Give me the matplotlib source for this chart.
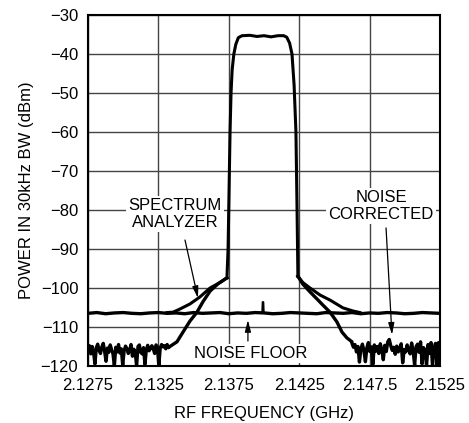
import numpy as np
import matplotlib
matplotlib.use("Agg")
import matplotlib.pyplot as plt

plt.rcParams['font.family'] = ['Liberation Sans', 'DejaVu Sans']

# frequency axis (GHz) and power axis (dBm)
x_ticks = [2.1275, 2.1325, 2.1375, 2.1425, 2.1475, 2.1525]
x_tick_labels = ["2.1275", "2.1325", "2.1375", "2.1425", "2.147.5", "2.1525"]
y_ticks = [-120, -110, -100, -90, -80, -70, -60, -50, -40, -30]

# channel (shared by both traces)
chan_f = [2.13737, 2.13745, 2.13752, 2.13759, 2.13766, 2.13774, 2.13786, 2.13800,
          2.13818, 2.13845, 2.1390, 2.1395, 2.1400, 2.1405, 2.1410, 2.1414,
          2.14162, 2.14182, 2.14199, 2.14214, 2.14227, 2.14235, 2.14241]
chan_db = [-97.4, -90.0, -75.0, -60.0, -50.0, -44.0, -40.0, -37.5,
           -35.8, -35.3, -35.2, -35.5, -35.3, -35.6, -35.3, -35.3,
           -35.7, -37.2, -40.0, -48.0, -60.0, -80.0, -97.0]

# spectrum analyzer skirts
sa_left_f = [2.13311, 2.13354, 2.13403, 2.13474, 2.13545, 2.13617, 2.13688, 2.13737]
sa_left_db = [-106.3, -106.2, -105.4, -104.1, -102.3, -100.0, -98.6, -97.4]
sa_right_f = [2.14241, 2.14276, 2.14327, 2.14398, 2.14469, 2.14561, 2.14632, 2.14682]
sa_right_db = [-97.0, -98.6, -100.0, -101.8, -103.1, -105.1, -105.9, -106.3]

# noise corrected skirts
nc_left_f = [2.13332, 2.13382, 2.13425, 2.13474, 2.13524, 2.13567, 2.13617, 2.13674, 2.13737]
nc_left_db = [-115.0, -113.8, -111.3, -108.5, -106.2, -103.5, -100.8, -98.9, -97.4]
nc_right_f = [2.14241, 2.14276, 2.14327, 2.14376, 2.14419, 2.14469, 2.14518, 2.14554, 2.14589, 2.14625]
nc_right_db = [-97.0, -99.0, -101.0, -102.8, -104.4, -106.2, -108.7, -111.3, -112.8, -113.8]

# noise corrected, residual noise below the floor
nc_noise_left_db = [
    -116.2, -114.8, -116.9, -115.0, -116.4, -119.5, -115.3, -114.4, -116.0, -116.8,
    -115.1, -114.2, -116.3, -118.8, -115.4, -116.5, -114.6, -115.8, -116.9, -120.0,
    -115.2, -116.4, -114.5, -116.7, -115.6, -119.8, -116.2, -114.9, -115.5, -116.8,
    -116.0, -114.5, -117.5, -115.7, -116.4, -120.0, -115.0, -114.6, -116.5, -116.9,
    -115.3, -119.6, -115.9, -114.7, -116.1, -115.5, -114.8, -115.6, -116.8, -114.6,
    -115.2, -120.0, -115.4, -114.5, -115.1, -114.8, -115.6, -114.5, -115.3, -115.0]
nc_noise_right_db = [
    -114.2, -115.2, -114.5, -116.4, -115.0, -119.0, -115.6, -114.4, -116.0, -118.9,
    -115.3, -114.0, -116.3, -115.1, -119.6, -114.6, -116.2, -115.0, -116.8, -114.3,
    -115.8, -118.4, -114.7, -116.3, -113.8, -113.2, -114.8, -116.0, -115.2, -117.0,
    -114.9, -116.4, -115.5, -114.3, -119.2, -115.8, -116.4, -114.6, -115.9, -116.9,
    -114.1, -116.1, -119.8, -115.0, -114.4, -116.5, -113.8, -119.5, -115.3, -116.0,
    -120.0, -114.5, -116.8, -114.0, -120.0, -115.5, -114.2, -119.7, -114.0, -115.2]
nc_noise_left_f = np.linspace(2.1275, 2.13332, len(nc_noise_left_db))
nc_noise_right_f = np.linspace(2.14625, 2.1525, len(nc_noise_right_db))

# measurement noise floor
floor_db = [
    -106.5, -106.3, -106.6, -106.4, -106.3, -106.5, -106.6, -106.4, -106.3, -106.5,
    -106.4, -106.6, -106.3, -106.5, -106.4, -106.3, -106.6, -106.4, -106.5, -106.3,
    -106.4, -106.6, -106.5, -106.3, -106.4, -106.5, -106.6, -106.3, -106.4, -106.5,
    -106.3, -106.6, -106.4, -106.5, -106.3, -106.4, -106.6, -106.5, -106.3, -106.4, -106.5]
floor_f = np.linspace(2.1275, 2.1525, len(floor_db))
spike_f = [2.13987, 2.13990, 2.13996, 2.13999]
spike_db = [-106.4, -103.6, -103.6, -106.4]

fig = plt.figure(figsize=(4.69, 4.23), dpi=100)
ax = fig.add_axes([0.1876, 0.1348, 0.7505, 0.8297])

lw = 2.2
ax.plot(floor_f, floor_db, color='black', lw=2.4, zorder=3)
ax.plot(spike_f, spike_db, color='black', lw=1.3, zorder=3)
ax.plot(chan_f, chan_db, color='black', lw=lw, zorder=4, solid_joinstyle='round')
ax.plot(sa_left_f, sa_left_db, color='black', lw=lw, zorder=4)
ax.plot(sa_right_f, sa_right_db, color='black', lw=lw, zorder=4)
ax.plot(list(nc_noise_left_f) + nc_left_f, nc_noise_left_db + nc_left_db,
        color='black', lw=2.4, zorder=4)
ax.plot(nc_right_f + list(nc_noise_right_f), nc_right_db + nc_noise_right_db,
        color='black', lw=2.4, zorder=4)

ax.set_xlim(2.1275, 2.1525)
ax.set_ylim(-120, -30)
ax.set_xticks(x_ticks)
ax.set_xticklabels(x_tick_labels)
ax.set_yticks(y_ticks)
ax.tick_params(length=0, labelsize=12)
ax.tick_params(axis='x', pad=9)
ax.tick_params(axis='y', pad=7)
ax.grid(True, color='#444444', lw=1.0)
ax.set_axisbelow(True)
for s in ax.spines.values():
    s.set_linewidth(1.5)

ax.set_xlabel("RF FREQUENCY (GHz)", fontsize=12, labelpad=9)
ax.set_ylabel("POWER IN 30kHz BW (dBm)", fontsize=12, labelpad=5)

box = dict(facecolor='white', edgecolor='none', pad=1.5)
arrow = dict(arrowstyle='-|>,head_length=0.7,head_width=0.18', color='black',
             lw=0.9, shrinkA=0, shrinkB=0)

ax.text(2.13368, -81.0, "SPECTRUM\nANALYZER", ha='center', va='center',
        fontsize=12, linespacing=1.2, bbox=box, zorder=5)
ax.annotate("", xy=(2.13531, -102.6), xytext=(2.13439, -87.7), arrowprops=arrow, zorder=5)

ax.text(2.14831, -79.0, "NOISE\nCORRECTED", ha='center', va='center',
        fontsize=12, linespacing=1.2, bbox=box, zorder=5)
ax.annotate("", xy=(2.14909, -112.0), xytext=(2.14867, -84.6), arrowprops=arrow, zorder=5)

ax.text(2.13908, -116.8, "NOISE FLOOR", ha='center', va='center',
        fontsize=12, bbox=box, zorder=5)
ax.annotate("", xy=(2.13886, -108.2), xytext=(2.13886, -113.6), arrowprops=arrow, zorder=5)

fig.savefig("out.png", dpi=100)
